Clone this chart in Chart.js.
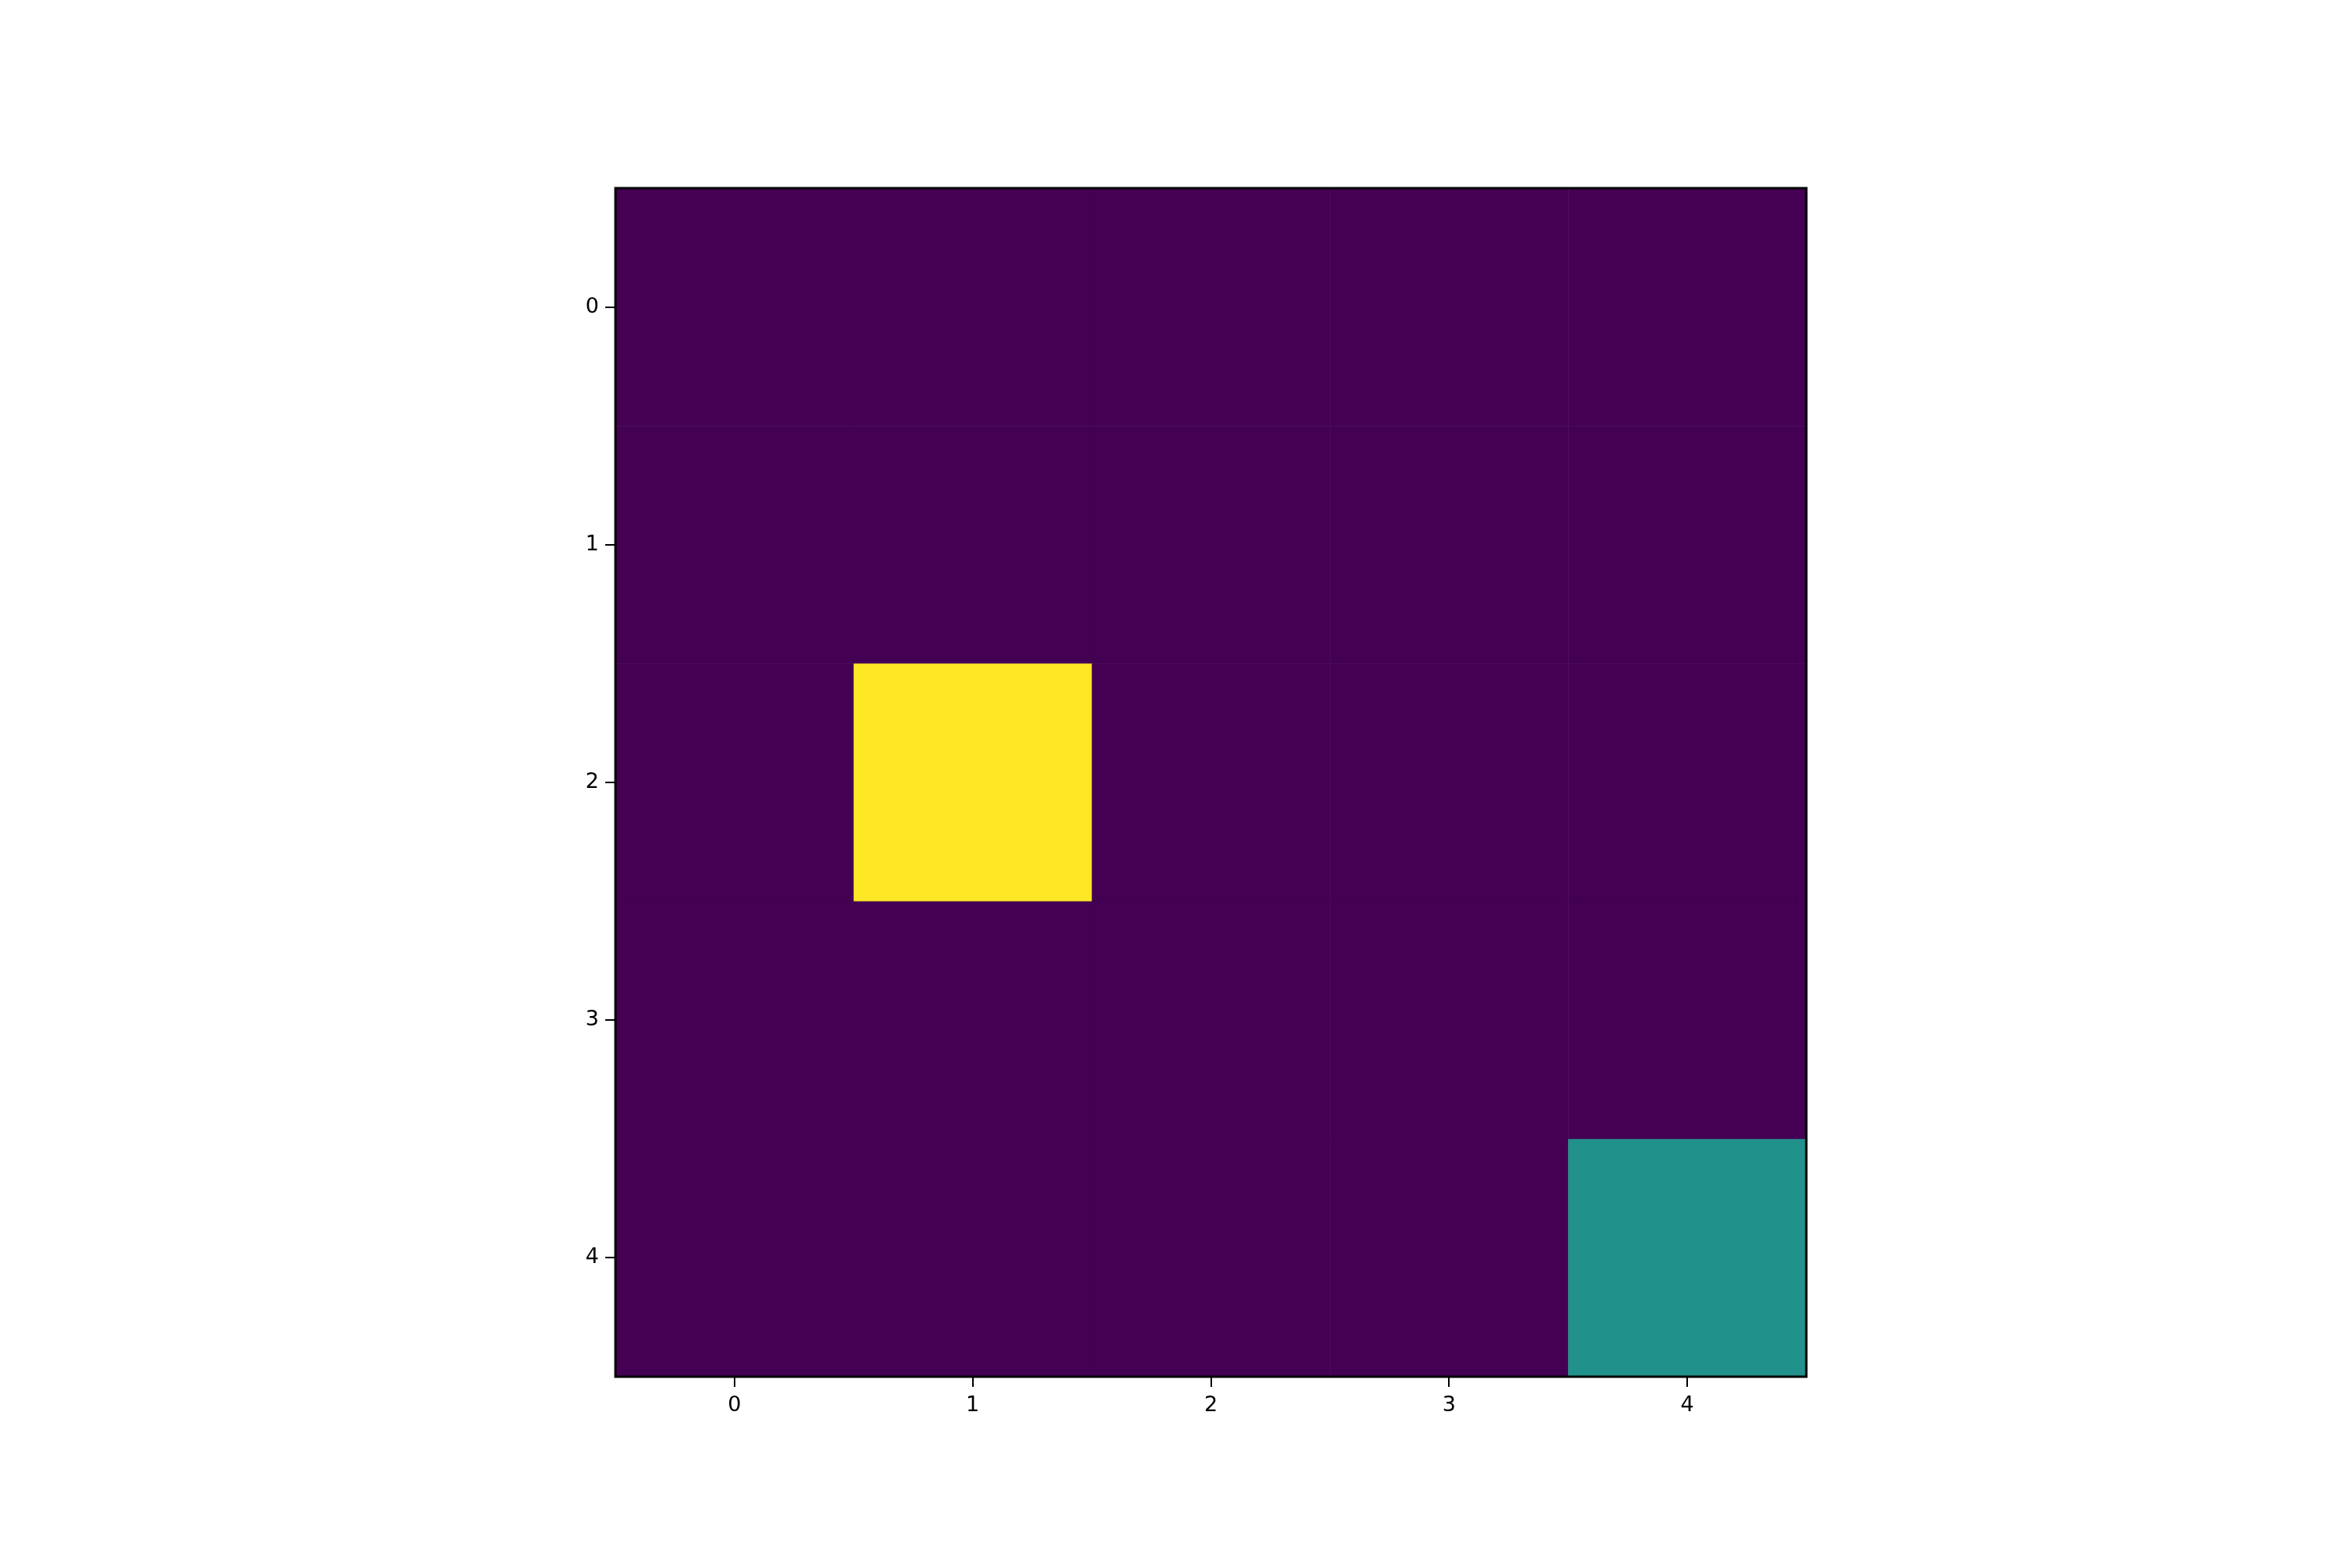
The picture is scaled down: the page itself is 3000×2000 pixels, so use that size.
<!DOCTYPE html>
<html><head><meta charset="utf-8">
<script src="https://cdn.jsdelivr.net/npm/chart.js@4"></script>
<style>html,body{margin:0;padding:0;background:#fff}</style>
</head><body>
<div style="width:3000px;height:2000px"><canvas id="c" width="3000" height="2000"></canvas></div>
<script>
const rows = [0,1,2,3,4];
const cols = [0,1,2,3,4];
const values = [
  [0,0,0,0,0],
  [0,0,0,0,0],
  [0,2,0,0,0],
  [0,0,0,0,0],
  [0,0,0,0,1]
];
const tickLabels = ['0','1','2','3','4'];
const viridis = {0:'#440154',1:'#21918c',2:'#fde725'};
const cells = [];
rows.forEach(r=>cols.forEach(c=>cells.push({x:c,y:r,v:values[r][c]})));

const heat = {
  id:'heat',
  beforeDatasetsDraw(chart){
    const {ctx, scales:{x,y}} = chart;
    chart.data.datasets[0].data.forEach(p=>{
      const x0=x.getPixelForValue(p.x-0.5), x1=x.getPixelForValue(p.x+0.5);
      const y0=y.getPixelForValue(p.y-0.5), y1=y.getPixelForValue(p.y+0.5);
      ctx.fillStyle=viridis[p.v];
      ctx.fillRect(Math.min(x0,x1),Math.min(y0,y1),Math.abs(x1-x0)+0.5,Math.abs(y1-y0)+0.5);
    });
  },
  afterDatasetsDraw(chart){
    const {ctx, chartArea:a} = chart;
    ctx.strokeStyle='#000'; ctx.lineWidth=3;
    ctx.strokeRect(a.left,a.top,a.right-a.left,a.bottom-a.top);
  }
};
const fixTicks = s => { s.ticks = cols.map(v=>({value:v})); };
const tickFont = {family:'DejaVu Sans', size:27};
new Chart(document.getElementById('c'),{
  type:'scatter',
  data:{datasets:[{data:cells,pointRadius:0,pointHoverRadius:0}]},
  plugins:[heat],
  options:{
    responsive:false, animation:false, devicePixelRatio:1,
    layout:{padding:{top:240,right:696,left:0,bottom:0}},
    plugins:{legend:{display:false},tooltip:{enabled:false}},
    scales:{
      x:{type:'linear',min:-0.5,max:4.5,afterBuildTicks:fixTicks,
        afterFit:s=>{s.height=244;},
        grid:{drawOnChartArea:false,tickLength:13,color:'#000',lineWidth:2},
        border:{display:false},
        ticks:{color:'#000',font:tickFont,padding:8,callback:v=>tickLabels[v]}},
      y:{type:'linear',reverse:true,min:-0.5,max:4.5,afterBuildTicks:fixTicks,
        afterFit:s=>{s.width=785;},
        grid:{drawOnChartArea:false,tickLength:13,color:'#000',lineWidth:2},
        border:{display:false},
        ticks:{color:'#000',font:tickFont,padding:8,callback:v=>tickLabels[v]}}
    }
  }
});
</script>
</body></html>
